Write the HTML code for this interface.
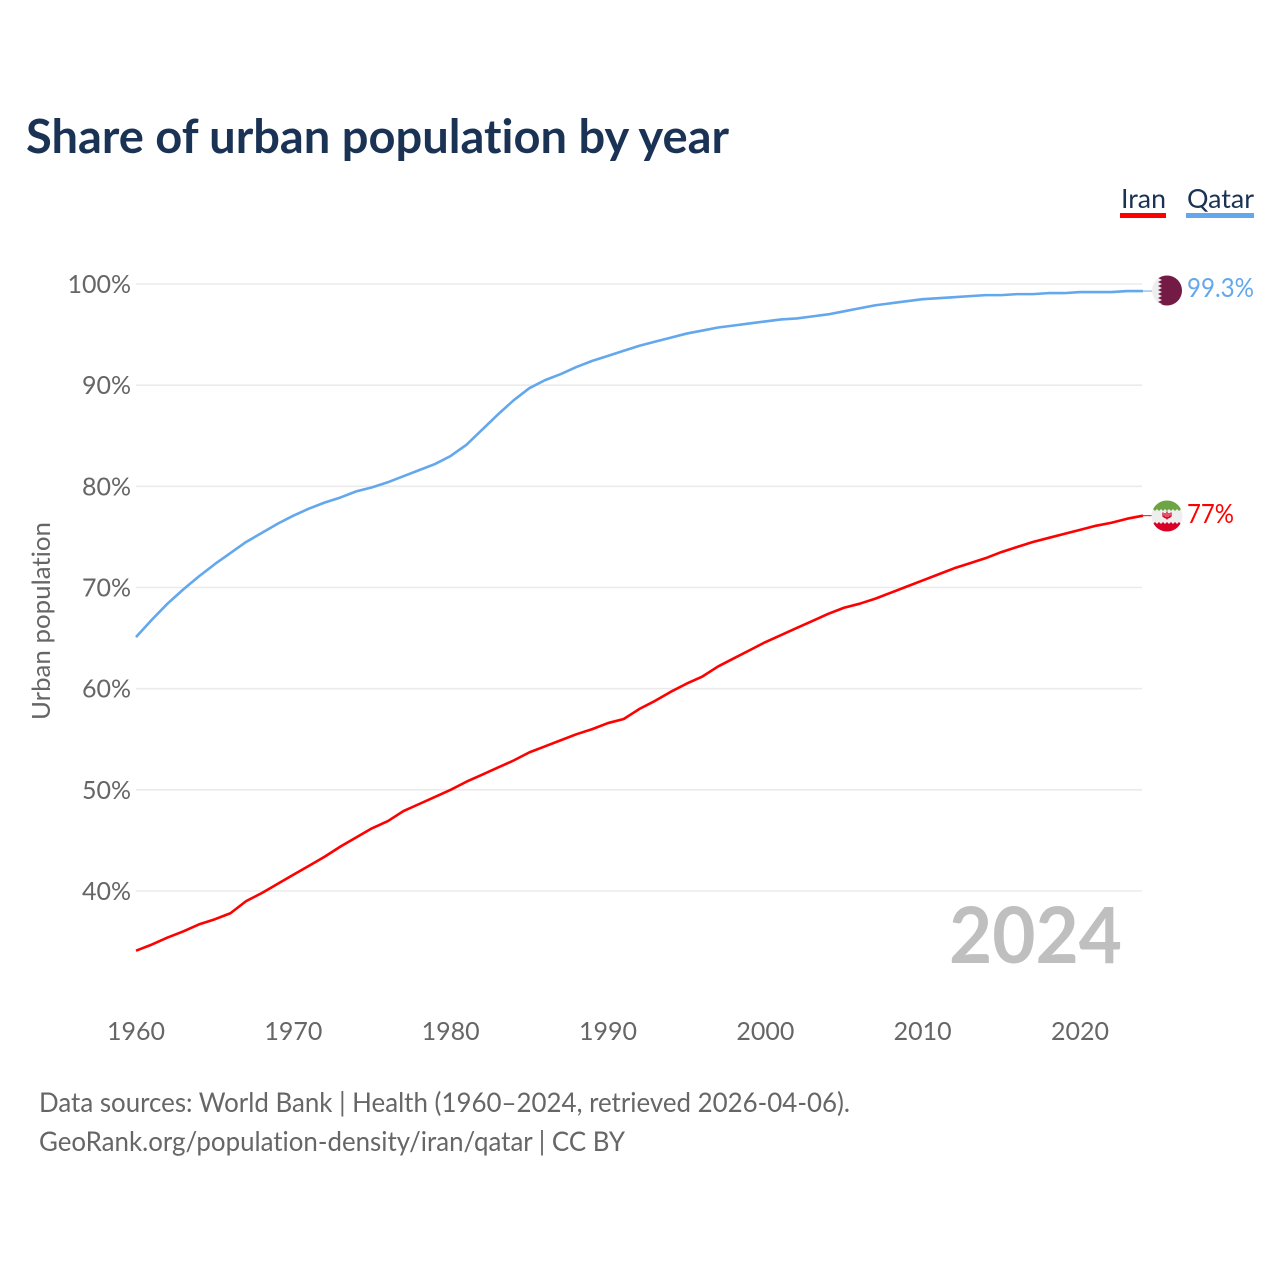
<!DOCTYPE html>
<html lang="en">
<head>
<meta charset="utf-8">
<title>Share of urban population by year</title>
<style>
html,body{margin:0;padding:0;background:#fff;}
svg{display:block;}
text{font-family:"Lato","Carlito","Liberation Sans",sans-serif;font-variant-ligatures:none;}
</style>
</head>
<body>
<svg id="chart" xmlns="http://www.w3.org/2000/svg" width="1280" height="1280" viewBox="0 0 1280 1280">
  <defs>
    <clipPath id="qatar-clip"><circle cx="1167" cy="290.5" r="15"/></clipPath>
    <clipPath id="iran-clip"><circle cx="1167" cy="516" r="15.5"/></clipPath>
  </defs>
  <rect width="1280" height="1280" fill="#fff"/>
  <text x="26" y="153" font-size="47" font-weight="700" fill="#1a3355" textLength="703" lengthAdjust="spacingAndGlyphs">Share of urban population by year</text>
  <g id="grid"></g>
  <g id="yticks"></g>
  <g id="xticks"></g>
  <text transform="translate(50,621) rotate(-90)" text-anchor="middle" font-size="25" fill="#666" textLength="198" lengthAdjust="spacingAndGlyphs">Urban population</text>
  <text x="1122" y="963" text-anchor="end" font-size="78" font-weight="700" fill="#bfbfbf" textLength="173" lengthAdjust="spacingAndGlyphs">2024</text>
  <g id="series"></g>

  <g>
    <text x="1121" y="208" font-size="26" fill="#1a3355" textLength="45" lengthAdjust="spacingAndGlyphs">Iran</text>
    <rect x="1120" y="213" width="46" height="5" fill="#ff0000"/>
  </g>
  <g>
    <text x="1187" y="208" font-size="26" fill="#1a3355" textLength="67" lengthAdjust="spacingAndGlyphs">Qatar</text>
    <rect x="1186" y="213" width="68" height="5" fill="#63a7ed"/>
  </g>

  <g clip-path="url(#qatar-clip)">
    <rect x="1152" y="275" width="31" height="31" fill="#eeeeee"/>
    <polygon points="1158,275 1183,275 1183,306 1158,306 1162,304 1158,302 1162,300 1158,298 1162,296 1158,294 1162,292 1158,290 1162,288 1158,286 1162,284 1158,282 1162,280 1158,278 1162,276" fill="#741b45"/>
  </g>
  <g clip-path="url(#iran-clip)">
    <rect x="1151" y="500" width="32" height="32" fill="#eeeeee"/>
    <polygon points="1151,500 1183,500 1183,511 1181,509 1179,511 1177,509 1175,511 1173,509 1171,511 1169,509 1167,511 1165,509 1163,511 1161,509 1159,511 1157,509 1155,511 1153,509 1151,511" fill="#6da544"/>
    <polygon points="1151,532 1183,532 1183,522 1181,524 1179,522 1177,524 1175,522 1173,524 1171,522 1169,524 1167,522 1165,524 1163,522 1161,524 1159,522 1157,524 1155,522 1153,524 1151,522" fill="#d80027"/>
    <path d="M1163 512.500v3.500q4 4 8 0v-3.500M1167 511.500v8M1165 513v4M1169 513v4" fill="none" stroke="#d80027" stroke-width="1.300"/>
  </g>
  <text id="qatar-value" x="1187" y="297" font-size="26" fill="#63a7ed" textLength="67" lengthAdjust="spacingAndGlyphs">99.3%</text>
  <text id="iran-value" x="1187" y="523" font-size="26" fill="#ff0000" textLength="47" lengthAdjust="spacingAndGlyphs">77%</text>

  <text x="39" y="1112" font-size="27" fill="#666" textLength="811" lengthAdjust="spacingAndGlyphs">Data sources: World Bank | Health (1960–2024, retrieved 2026-04-06).</text>
  <text x="39" y="1151" font-size="27" fill="#666" textLength="586" lengthAdjust="spacingAndGlyphs">GeoRank.org/population-density/iran/qatar | CC BY</text>
</svg>
<script>
const years = [1960,1961,1962,1963,1964,1965,1966,1967,1968,1969,1970,1971,1972,1973,1974,1975,1976,1977,1978,1979,1980,1981,1982,1983,1984,1985,1986,1987,1988,1989,1990,1991,1992,1993,1994,1995,1996,1997,1998,1999,2000,2001,2002,2003,2004,2005,2006,2007,2008,2009,2010,2011,2012,2013,2014,2015,2016,2017,2018,2019,2020,2021,2022,2023,2024];
const iranValues = [34.1,34.7,35.4,36.0,36.7,37.2,37.8,39.0,39.8,40.7,41.6,42.5,43.4,44.4,45.3,46.2,46.9,47.9,48.6,49.3,50.0,50.8,51.5,52.2,52.9,53.7,54.3,54.9,55.5,56.0,56.6,57.0,58.0,58.8,59.7,60.5,61.2,62.2,63.0,63.8,64.6,65.3,66.0,66.7,67.4,68.0,68.4,68.9,69.5,70.1,70.7,71.3,71.9,72.4,72.9,73.5,74.0,74.5,74.9,75.3,75.7,76.1,76.4,76.8,77.1];
const qatarValues = [65.1,66.8,68.4,69.8,71.1,72.3,73.4,74.5,75.4,76.3,77.1,77.8,78.4,78.9,79.5,79.9,80.4,81.0,81.6,82.2,83.0,84.1,85.6,87.1,88.5,89.7,90.5,91.1,91.8,92.4,92.9,93.4,93.9,94.3,94.7,95.1,95.4,95.7,95.9,96.1,96.3,96.5,96.6,96.8,97.0,97.3,97.6,97.9,98.1,98.3,98.5,98.6,98.7,98.8,98.9,98.9,99.0,99.0,99.1,99.1,99.2,99.2,99.2,99.3,99.3];
const yTickValues = [100,90,80,70,60,50,40];
const xTickValues = [1960,1970,1980,1990,2000,2010,2020];

const SVG_NS = 'http://www.w3.org/2000/svg';
function xScale(year){ return 136 + (year - 1960) * (1080 - 136) / 60; }
function yScale(pct){ return 284 + (100 - pct) * (891 - 284) / 60; }

function make(tag, attrs, parent){
  const el = document.createElementNS(SVG_NS, tag);
  for (const k in attrs) el.setAttribute(k, attrs[k]);
  parent.appendChild(el);
  return el;
}

const grid = document.getElementById('grid');
const yticks = document.getElementById('yticks');
yTickValues.forEach(function(v){
  const line = make('line', {x1: 136, x2: 1142, y1: yScale(v), y2: yScale(v), stroke: '#ebebeb', 'stroke-width': 1.6}, grid);
  
  
  const label = make('text', {x: 131, y: yScale(v) + 9, 'text-anchor': 'end', 'font-size': 25, fill: '#666'}, yticks);
  
  
  label.textContent = v + '%';
});

const xticks = document.getElementById('xticks');
xTickValues.forEach(function(v){
  const label = make('text', {x: xScale(v), y: 1040, 'text-anchor': 'middle', 'font-size': 25, fill: '#666'}, xticks);
  
  
  label.textContent = v;
});

function linePath(values){
  return values.map(function(v, i){
    return (i ? 'L' : 'M') + xScale(years[i]).toFixed(2) + ' ' + yScale(v).toFixed(2);
  }).join('');
}

const seriesGroup = document.getElementById('series');
const iranLine = make('path', {d: linePath(iranValues), fill: 'none', stroke: '#ff0000', 'stroke-width': 2.6, 'stroke-linejoin': 'round'}, seriesGroup);


const qatarLine = make('path', {d: linePath(qatarValues), fill: 'none', stroke: '#63a7ed', 'stroke-width': 2.6, 'stroke-linejoin': 'round'}, seriesGroup);



const iranLead = make('line', {x1: xScale(2024), x2: 1152, y1: yScale(iranValues[iranValues.length - 1]), y2: yScale(iranValues[iranValues.length - 1]), stroke: '#ff0000', 'stroke-width': 1}, seriesGroup);


const qatarLead = make('line', {x1: xScale(2024), x2: 1152, y1: yScale(qatarValues[qatarValues.length - 1]), y2: yScale(qatarValues[qatarValues.length - 1]), stroke: '#63a7ed', 'stroke-width': 1}, seriesGroup);


</script>
</body>
</html>
